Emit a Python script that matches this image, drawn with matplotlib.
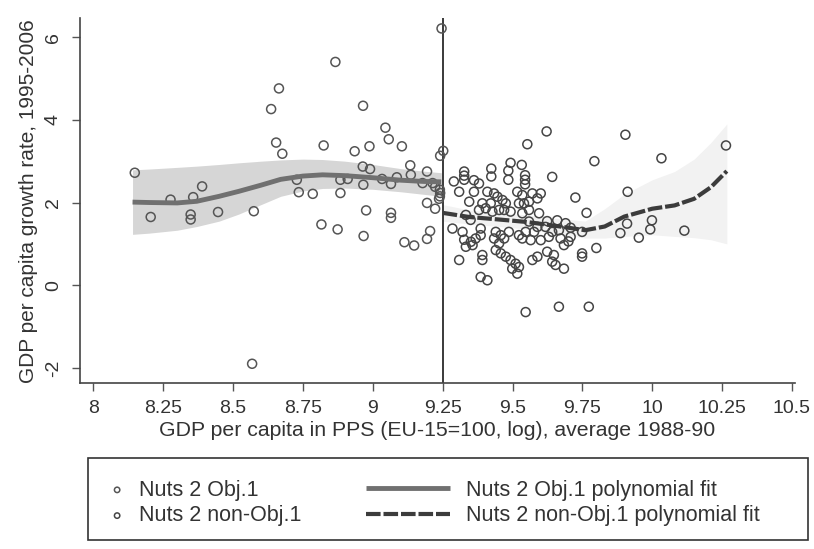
import matplotlib
matplotlib.use("Agg")
import matplotlib.pyplot as plt
from matplotlib.patches import Rectangle

# Nuts 2 Obj.1 regions (log GDP per capita 1988-90, growth 1995-2006)
obj_x = [8.148, 8.389, 8.276, 8.357, 8.205, 8.348, 8.348, 8.446, 8.574, 8.568,
         8.676, 8.654, 8.664, 8.636, 8.866, 8.965, 9.045, 9.057, 9.104, 8.988,
         8.935, 8.824, 9.246, 9.252, 9.241, 9.134, 8.964, 8.990, 9.194, 9.136,
         8.728, 8.735, 8.785, 8.884, 8.884, 8.910, 8.966, 8.976, 9.065, 9.065,
         8.816, 8.874, 8.967, 9.033, 9.065, 9.086, 9.178, 9.214, 9.223, 9.194,
         9.223, 9.205, 9.194, 9.113, 9.148, 9.241, 9.237, 9.240, 9.240]
obj_y = [2.72, 2.39, 2.07, 2.13, 1.65, 1.71, 1.59, 1.77, 1.79, -1.90,
         3.18, 3.45, 4.76, 4.26, 5.40, 4.34, 3.81, 3.53, 3.36, 3.36,
         3.24, 3.38, 6.21, 3.25, 3.13, 2.90, 2.87, 2.81, 2.75, 2.67,
         2.55, 2.25, 2.21, 2.55, 2.23, 2.57, 2.43, 1.81, 1.75, 1.63,
         1.47, 1.35, 1.19, 2.57, 2.45, 2.61, 2.47, 2.47, 2.38, 1.99,
         1.85, 1.31, 1.12, 1.04, 0.96, 2.23, 2.09, 2.31, 2.15]

# Nuts 2 non-Obj.1 regions
non_x = [9.622, 9.904, 9.553, 10.264, 10.033, 9.793, 9.493, 9.533, 9.642, 9.424,
         9.424, 9.485, 9.485, 9.327, 9.327, 9.327, 9.545, 9.545, 9.545, 9.912,
         9.725, 9.765, 9.290, 9.362, 9.380, 9.309, 9.362, 9.410, 9.434, 9.446,
         9.464, 9.476, 9.517, 9.535, 9.523, 9.541, 9.345, 9.392, 9.422, 9.380,
         9.404, 9.333, 9.428, 9.452, 9.470, 9.493, 9.535, 9.285, 9.321, 9.386,
         9.368, 9.440, 9.458, 9.487, 9.523, 9.386, 9.350, 9.571, 9.601, 9.559,
         9.589, 9.559, 9.595, 9.559, 9.589, 9.660, 9.547, 9.577, 9.618, 9.642,
         9.708, 9.749, 9.666, 9.327, 9.351, 9.333, 9.357, 9.434, 9.470, 9.452,
         9.309, 9.392, 9.392, 9.440, 9.458, 9.476, 9.493, 9.511, 9.523, 9.499,
         9.517, 9.386, 9.410, 9.547, 9.535, 9.565, 9.601, 9.630, 9.672, 9.700,
         9.684, 9.571, 9.589, 9.624, 9.648, 9.642, 9.654, 9.684, 9.749, 9.749,
         9.800, 9.666, 9.773, 9.910, 9.886, 9.952, 9.999, 9.993, 10.115, 9.624,
         9.708, 9.690]
non_y = [3.72, 3.64, 3.41, 3.38, 3.07, 3.00, 2.96, 2.91, 2.62, 2.82,
         2.63, 2.77, 2.55, 2.75, 2.65, 2.55, 2.66, 2.55, 2.44, 2.26,
         2.12, 1.75, 2.51, 2.54, 2.46, 2.26, 2.26, 2.26, 2.22, 2.14,
         2.06, 1.98, 2.26, 2.18, 1.98, 1.98, 2.02, 1.98, 1.98, 1.82,
         1.86, 1.70, 1.78, 1.82, 1.82, 1.78, 1.74, 1.37, 1.29, 1.37,
         1.13, 1.29, 1.21, 1.29, 1.21, 1.21, 1.58, 2.22, 2.22, 2.02,
         2.10, 1.82, 1.74, 1.54, 1.41, 1.57, 1.29, 1.29, 1.41, 1.29,
         1.17, 1.29, 1.33, 1.10, 1.05, 0.93, 0.97, 1.13, 1.13, 1.01,
         0.61, 0.73, 0.61, 0.85, 0.77, 0.69, 0.61, 0.52, 0.44, 0.40,
         0.28, 0.20, 0.12, -0.65, 1.13, 1.09, 1.09, 1.17, 1.13, 1.06,
         0.97, 0.61, 0.69, 0.81, 0.73, 0.57, 0.49, 0.40, 0.69, 0.77,
         0.90, -0.52, -0.52, 1.49, 1.26, 1.15, 1.57, 1.35, 1.32, 1.55,
         1.39, 1.50]

# polynomial fits with confidence bands
obj_fit_x = [8.14, 8.20, 8.30, 8.37, 8.45, 8.52, 8.60, 8.67, 8.75, 8.82,
             8.90, 9.00, 9.10, 9.18, 9.245]
obj_fit_y = [2.01, 2.00, 1.99, 2.03, 2.15, 2.27, 2.42, 2.56, 2.64, 2.67,
             2.65, 2.60, 2.54, 2.51, 2.50]
obj_lo = [1.23, 1.26, 1.33, 1.42, 1.55, 1.72, 1.95, 2.15, 2.28, 2.34,
          2.35, 2.32, 2.26, 2.20, 2.15]
obj_hi = [2.79, 2.81, 2.85, 2.88, 2.92, 2.96, 3.00, 3.03, 3.05, 3.04,
          3.00, 2.92, 2.82, 2.76, 2.72]

non_fit_x = [9.25, 9.345, 9.45, 9.55, 9.65, 9.76, 9.83, 9.90, 10.00, 10.08, 10.15, 10.21, 10.267]
non_fit_y = [1.75, 1.65, 1.59, 1.53, 1.44, 1.33, 1.42, 1.66, 1.85, 1.93, 2.09, 2.37, 2.76]
non_lo = [1.55, 1.48, 1.42, 1.36, 1.26, 1.14, 1.14, 1.18, 1.22, 1.18, 1.15, 1.10, 1.00]
non_hi = [1.95, 1.82, 1.76, 1.70, 1.62, 1.55, 1.85, 2.20, 2.55, 2.75, 3.05, 3.45, 3.90]

x_ticks = [8, 8.25, 8.5, 8.75, 9, 9.25, 9.5, 9.75, 10, 10.25, 10.5]
x_tick_labels = ["8", "8.25", "8.5", "8.75", "9", "9.25", "9.5", "9.75", "10", "10.25", "10.5"]
y_ticks = [-2, 0, 2, 4, 6]


def draw_chart():

    """
    description:
        Scatter of regional growth against initial GDP per capita, with
        polynomial fits for Obj.1 and non-Obj.1 regions.
    """

    plt.rcParams['font.family'] = ['Liberation Sans', 'DejaVu Sans']
    text_col = '#333333'

    fig = plt.figure(figsize=(8.14, 5.49), dpi=100)
    ax = fig.add_axes([0.0983, 0.302, 0.878, 0.665])

    ax.fill_between(non_fit_x, non_lo, non_hi, color='#f2f2f2', lw=0, zorder=1)
    ax.fill_between(obj_fit_x, obj_lo, obj_hi, color='#d6d6d6', lw=0, zorder=1)

    sc1 = ax.scatter(obj_x, obj_y, s=42, facecolors='none', edgecolors='#555555',
                     linewidths=1.1, zorder=3, label='Nuts 2 Obj.1')
    sc2 = ax.scatter(non_x, non_y, s=42, facecolors='none', edgecolors='#454545',
                     linewidths=1.1, zorder=3, label='Nuts 2 non-Obj.1')

    l1, = ax.plot(obj_fit_x, obj_fit_y, color='#707070', lw=3.5, zorder=4,
                  solid_capstyle='butt', label='Nuts 2 Obj.1 polynomial fit')
    l2, = ax.plot(non_fit_x, non_fit_y, color='#3c3c3c', lw=3.0, zorder=4,
                  dashes=(3.5, 0.7), label='Nuts 2 non-Obj.1 polynomial fit')

    ax.axvline(9.25, color='#3a3a3a', lw=1.4, zorder=2)

    ax.set_xlim(7.952, 10.51)
    ax.set_ylim(-2.37, 6.46)
    ax.set_xticks(x_ticks)
    ax.set_xticklabels(x_tick_labels)
    ax.set_yticks(y_ticks)
    ax.set_yticklabels([str(v) for v in y_ticks], rotation=90, va='center')

    for side in ['top', 'right']:
        ax.spines[side].set_visible(False)
    for side in ['left', 'bottom']:
        ax.spines[side].set_color('#444444')
        ax.spines[side].set_linewidth(1.2)

    ax.tick_params(direction='out', length=6, width=1, color='#555555',
                   labelcolor=text_col, labelsize=14)
    ax.tick_params(axis='x', pad=6)
    ax.tick_params(axis='y', pad=7)

    ax.set_xlabel('GDP per capita in PPS (EU-15=100, log), average 1988-90',
                  fontsize=15.3, color=text_col, labelpad=3)
    ax.set_ylabel('GDP per capita growth rate, 1995-2006',
                  fontsize=15, color=text_col, labelpad=5)

    # legend frame and two legend blocks
    fig.add_artist(Rectangle((0.108, 0.016), 0.885, 0.150, transform=fig.transFigure,
                             fill=False, edgecolor='#333333', lw=1.2))
    fig.legend(handles=[sc1, sc2], loc='center left', bbox_to_anchor=(0.1333, 0.084),
               frameon=False, fontsize=15.5, handlelength=0.8, handletextpad=0.6,
               labelspacing=0.22, borderpad=0, borderaxespad=0, markerscale=0.6,
               labelcolor=text_col)
    fig.legend(handles=[l1, l2], loc='center left', bbox_to_anchor=(0.4496, 0.084),
               frameon=False, fontsize=15.5, handlelength=3.9, handletextpad=0.74,
               labelspacing=0.22, borderpad=0, borderaxespad=0,
               labelcolor=text_col)

    fig.savefig('out.png', dpi=100, facecolor='white')


def main():
    draw_chart()


if __name__ == "__main__":
    main()
